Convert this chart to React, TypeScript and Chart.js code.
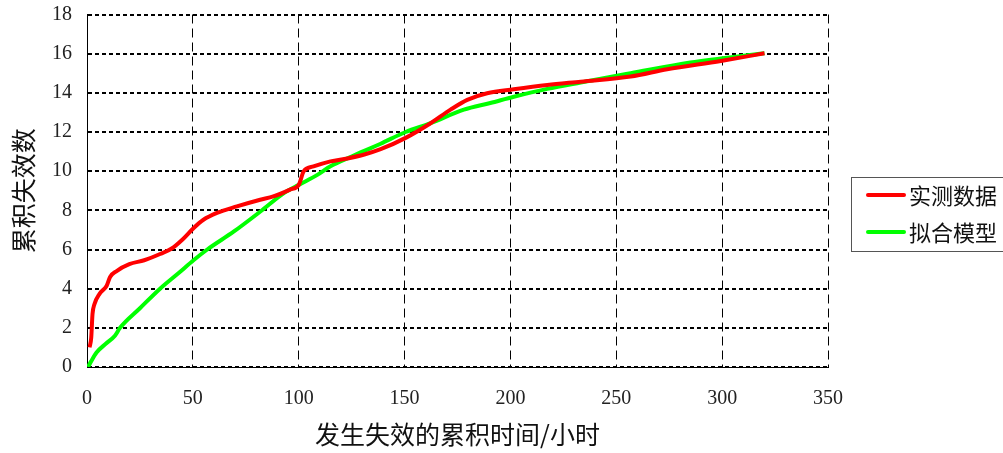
import React, { useEffect, useRef } from "react";
import { Chart, registerables } from "chart.js";

Chart.register(...registerables);

const measuredLabel = "实测数据";
const fittedLabel = "拟合模型";
const xTitle = "发生失效的累积时间/小时";
const yTitle = "累积失效数";

const measuredX = [1.2, 2.0, 2.6, 3.5, 6, 9.3, 10.9, 14, 20, 27, 34.5, 40, 45, 50.4, 55, 61.4, 70.8, 81.8, 88, 95.9, 100, 102.4, 107, 115, 123, 131, 138.7, 150.5, 162.3, 171.7, 179.6, 189, 201.6, 217.4, 233.2, 256.8, 274, 299.4, 320];
const measuredY = [1.0, 1.5, 2.7, 3.2, 3.75, 4.15, 4.6, 4.9, 5.25, 5.45, 5.77, 6.05, 6.5, 7.1, 7.52, 7.87, 8.2, 8.54, 8.71, 9.06, 9.3, 10.0, 10.24, 10.5, 10.65, 10.85, 11.12, 11.7, 12.45, 13.14, 13.64, 13.98, 14.18, 14.4, 14.57, 14.83, 15.2, 15.63, 16.02];

const fittedX = [0.5, 2, 4.6, 9, 13.2, 15.6, 25, 34.5, 43.3, 50.3, 56.8, 69.4, 81.9, 93, 100, 108.8, 115, 125, 138.7, 150.5, 162.3, 178, 190.5, 201.6, 217.4, 233.2, 256.8, 285, 320];
const fittedY = [0.0, 0.3, 0.75, 1.2, 1.6, 2.0, 3.0, 4.0, 4.8, 5.45, 6.0, 6.92, 7.94, 8.88, 9.3, 9.81, 10.25, 10.75, 11.4, 12.0, 12.45, 13.14, 13.48, 13.8, 14.2, 14.53, 15.0, 15.55, 16.02];

const xMin = 0, xMax = 350, xStep = 50;
const yMin = 0, yMax = 18, yStep = 2;

const RED = "rgb(255,0,0)";
const GREEN = "rgb(0,255,0)";
const CJK = '"Noto Sans CJK SC", sans-serif';
const SERIF = '"Liberation Serif", serif';

const legendPlugin = {
  id: "boxLegend",
  afterDraw(chart: any) {
    const ctx = chart.ctx;
    ctx.save();
    ctx.strokeStyle = "#555";
    ctx.lineWidth = 1;
    ctx.strokeRect(851.5, 177.5, 160, 74);
    chart.data.datasets.forEach((ds: any, i: number) => {
      const y = 195 + i * 37;
      ctx.strokeStyle = ds.borderColor;
      ctx.lineWidth = 4;
      ctx.lineCap = "round";
      ctx.beginPath();
      ctx.moveTo(868, y);
      ctx.lineTo(904, y);
      ctx.stroke();
      ctx.fillStyle = "#111";
      ctx.font = "22px " + CJK;
      ctx.textBaseline = "middle";
      ctx.textAlign = "left";
      ctx.fillText(ds.label, 909, y + 1);
    });
    ctx.restore();
  },
};

export default function App() {
  const ref = useRef<HTMLCanvasElement | null>(null);
  useEffect(() => {
    document.body.style.margin = "0";
    const canvas = ref.current;
    if (!canvas) return;
    const chart = new Chart(canvas, {
      type: "scatter",
      data: {
        datasets: [
          {
            label: measuredLabel,
            data: measuredX.map((x, i) => ({ x, y: measuredY[i] })),
            borderColor: RED,
            backgroundColor: RED,
            borderWidth: 4,
            showLine: true,
            pointRadius: 0,
            cubicInterpolationMode: "monotone",
          },
          {
            label: fittedLabel,
            data: fittedX.map((x, i) => ({ x, y: fittedY[i] })),
            borderColor: GREEN,
            backgroundColor: GREEN,
            borderWidth: 4,
            showLine: true,
            pointRadius: 0,
            cubicInterpolationMode: "monotone",
          },
        ],
      },
      options: {
        animation: false,
        responsive: true,
        maintainAspectRatio: false,
        layout: { padding: { top: 14.5, right: 175, left: 0, bottom: 0 } },
        plugins: { legend: { display: false }, tooltip: { enabled: false } },
        scales: {
          x: {
            type: "linear",
            min: xMin,
            max: xMax,
            afterFit: (s: any) => { s.height = 86; s.paddingLeft = 0; s.paddingRight = 0; },
            ticks: { stepSize: xStep, padding: 20, color: "#222", font: { family: SERIF, size: 20 } },
            grid: { color: "#000", lineWidth: 1, drawTicks: false },
            border: { display: true, color: "#000", width: 1, dash: [9, 5] },
            title: { display: true, text: xTitle, color: "#111", font: { family: CJK, size: 25 }, padding: { top: 0, bottom: 4 } },
          },
          y: {
            type: "linear",
            min: yMin,
            max: yMax,
            afterFit: (s: any) => { s.width = 87; s.paddingTop = 0; s.paddingBottom = 0; },
            ticks: { stepSize: yStep, padding: 15, color: "#222", font: { family: SERIF, size: 20 } },
            grid: { color: "#000", lineWidth: 2, drawTicks: false },
            border: { display: true, color: "#000", width: 1, dash: [4, 3] },
            title: { display: true, text: yTitle, color: "#111", font: { family: CJK, size: 25 }, padding: { top: 8, bottom: 0 } },
          },
        },
      },
      plugins: [legendPlugin],
    } as any);
    return () => chart.destroy();
  }, []);
  return (
    <div style={{ position: "relative", width: 1003, height: 453 }}>
      <canvas ref={ref} />
    </div>
  );
}
